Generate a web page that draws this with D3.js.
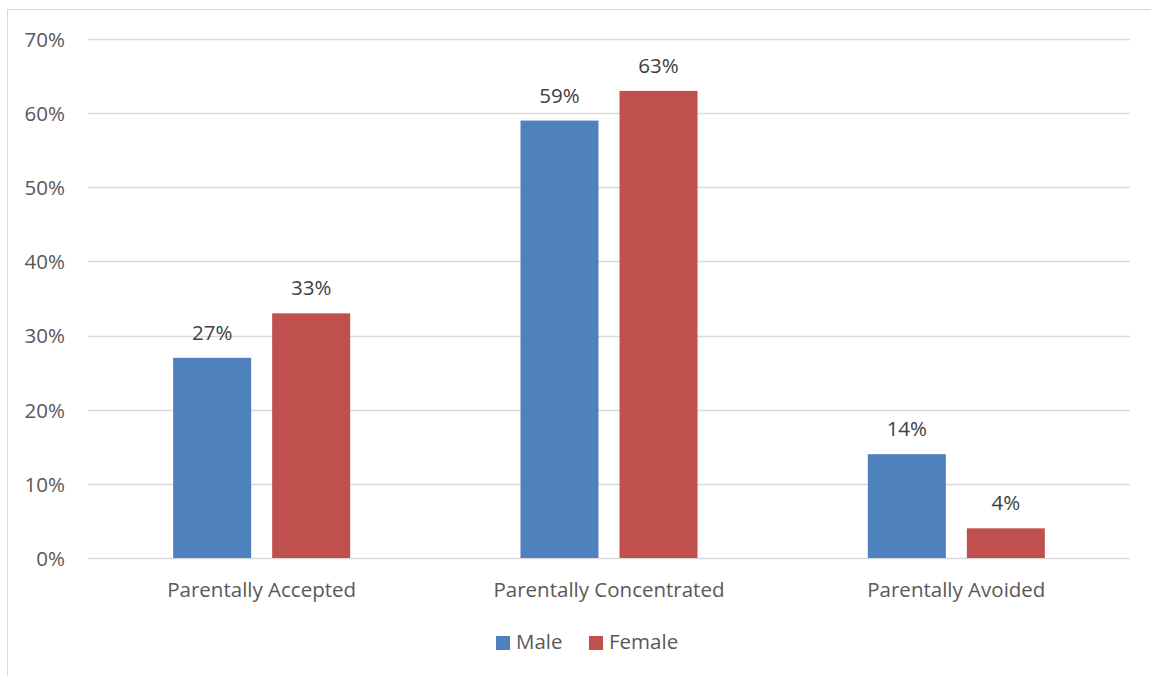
<!DOCTYPE html>
<html>
<head>
<meta charset="utf-8">
<script src="https://cdn.jsdelivr.net/npm/d3@7"></script>
<style>
  html, body { margin: 0; padding: 0; background: #fff; }
  svg { display: block; font-family: "Open Sans", "Noto Sans", sans-serif; }
</style>
</head>
<body>
<svg id="chart" width="1151" height="676"></svg>
<script>
// Share of respondents by parental attitude, split by gender
const categories = ["Parentally Accepted", "Parentally Concentrated", "Parentally Avoided"];
const seriesNames = ["Male", "Female"];
const maleValues = [27, 59, 14];
const femaleValues = [33, 63, 4];
const seriesColors = ["#4F81BD", "#C0504D"];
const yTicks = [0, 10, 20, 30, 40, 50, 60, 70];

const svg = d3.select("#chart");
const W = 1151, H = 676;
const FONT = "'Open Sans', 'Noto Sans', sans-serif";
const FS = 20.5;

// Outer chart frame (extends past the window on the right and bottom)
svg.append("rect")
  .attr("x", 7.5).attr("y", 9.5)
  .attr("width", W + 10).attr("height", H + 10)
  .attr("fill", "#fff").attr("stroke", "#D9D9D9").attr("stroke-width", 1);

const plot = { left: 88, right: 1130, top: 39, bottom: 558 };

const x0 = d3.scaleBand()
  .domain(categories)
  .range([plot.left, plot.right])
  .paddingInner(0).paddingOuter(0);

const groupInner = 177; // width occupied by the two bars and their gap
const x1 = d3.scaleBand()
  .domain(seriesNames)
  .range([0, groupInner])
  .paddingInner(21 / 99)
  .paddingOuter(0);

const y = d3.scaleLinear().domain([0, 70]).range([plot.bottom, plot.top]);

// Horizontal gridlines
svg.append("g")
  .selectAll("line")
  .data(yTicks)
  .join("line")
  .attr("x1", plot.left).attr("x2", plot.right)
  .attr("y1", d => Math.round(y(d)) + 0.5).attr("y2", d => Math.round(y(d)) + 0.5)
  .attr("stroke", "#D9D9D9").attr("stroke-width", 1.3);

// Y axis labels
const yAxis = d3.axisLeft(y).tickValues(yTicks).tickFormat(d => d + "%").tickSize(0).tickPadding(0);
const yg = svg.append("g").attr("transform", `translate(65,0)`).call(yAxis);
yg.select(".domain").remove();
yg.selectAll("text")
  .attr("fill", "#595959").attr("font-size", FS)
  .attr("font-family", FONT)
  .attr("dy", "0.36em");

// Data rows
const rows = categories.map((c, i) => ({ category: c, values: [maleValues[i], femaleValues[i]] }));

const groups = svg.append("g")
  .selectAll("g")
  .data(rows)
  .join("g")
  .attr("transform", d => `translate(${x0(d.category) + (x0.bandwidth() - groupInner) / 2},0)`);

groups.selectAll("rect")
  .data(d => d.values.map((v, j) => ({ name: seriesNames[j], value: v, color: seriesColors[j] })))
  .join("rect")
  .attr("x", d => x1(d.name))
  .attr("width", x1.bandwidth())
  .attr("y", d => y(d.value))
  .attr("height", d => y(0) - y(d.value))
  .attr("fill", d => d.color);

// Value labels above each bar
groups.selectAll("text")
  .data(d => d.values.map((v, j) => ({ name: seriesNames[j], value: v })))
  .join("text")
  .attr("x", d => x1(d.name) + x1.bandwidth() / 2)
  .attr("y", d => y(d.value) - 18)
  .attr("text-anchor", "middle")
  .attr("fill", "#404040").attr("font-size", FS)
  .text(d => d.value + "%");

// Category axis labels
const xAxis = d3.axisBottom(x0).tickSize(0).tickPadding(0);
const xg = svg.append("g").attr("transform", `translate(0,${plot.bottom})`).call(xAxis);
xg.select(".domain").remove();
xg.selectAll("text")
  .attr("fill", "#595959").attr("font-size", FS)
  .attr("font-family", FONT)
  .attr("dy", 0).attr("y", 39);

// Legend
const legendItems = [
  { name: seriesNames[0], color: seriesColors[0], x: 496 },
  { name: seriesNames[1], color: seriesColors[1], x: 589 }
];
const lg = svg.append("g").selectAll("g").data(legendItems).join("g")
  .attr("transform", d => `translate(${d.x},636)`);
lg.append("rect").attr("width", 14).attr("height", 14).attr("fill", d => d.color);
lg.append("text")
  .attr("x", 20).attr("y", 13)
  .attr("fill", "#595959").attr("font-size", FS)
  .text(d => d.name);
</script>
</body>
</html>
